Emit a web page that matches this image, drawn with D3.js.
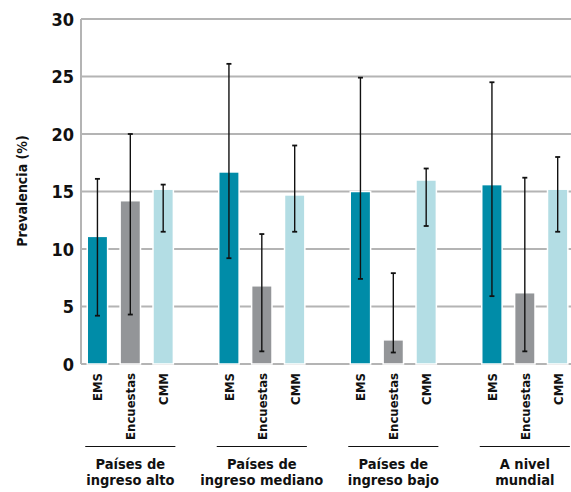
<!DOCTYPE html>
<html>
<head>
	<script src="https://cdn.jsdelivr.net/npm/d3@7/dist/d3.min.js"></script>
	<style>
		html, body {
			padding: 0;
			margin: 0;
			background: #fff;
		}
		text {
			font-family: "Liberation Sans Narrow", "DejaVu Sans Condensed", sans-serif;
			font-weight: bold;
			fill: #111;
		}
	</style>
</head>
<body>
	<script>
		var width = 571, height = 492;

		/* data */
		var groups    = ["alto", "mediano", "bajo", "mundial"];
		var groupText = [["Países de", "ingreso alto"],
		                 ["Países de", "ingreso mediano"],
		                 ["Países de", "ingreso bajo"],
		                 ["A nivel", "mundial"]];
		var series    = ["EMS", "Encuestas", "CMM"];
		var colors    = ["#008ca8", "#939598", "#b3dde4"];
		// values per group, in series order
		var values    = [[11.1, 14.2, 15.2],
		                 [16.7, 6.8, 14.7],
		                 [15.0, 2.1, 16.0],
		                 [15.6, 6.2, 15.2]];
		var lows      = [[4.2, 4.3, 11.5],
		                 [9.2, 1.1, 11.5],
		                 [7.4, 1.0, 12.0],
		                 [5.9, 1.1, 11.5]];
		var highs     = [[16.1, 20.0, 15.6],
		                 [26.1, 11.3, 19.0],
		                 [24.9, 7.9, 17.0],
		                 [24.5, 16.2, 18.0]];
		var yTicks    = [0, 5, 10, 15, 20, 25, 30];

		var svg = d3.select('body').append('svg')
			.attr('width', width)
			.attr('height', height);

		var plotLeft = 81, plotTop = 19, plotBottom = 364;
		var groupStep = 131.5;

		var y = d3.scaleLinear().domain([0, 30]).range([plotBottom, plotTop]);
		var x0 = d3.scaleBand().domain(groups)
			.range([plotLeft, plotLeft + groupStep * groups.length]);
		var x1 = d3.scaleBand().domain(series)
			.range([0, groupStep * 3 / 4])
			.paddingInner(0.38).paddingOuter(0.19);

		/* gridlines */
		svg.append("g").selectAll("line")
			.data(yTicks)
			.enter().append("line")
			.attr("x1", plotLeft).attr("x2", width)
			.attr("y1", function(d) { return y(d); })
			.attr("y2", function(d) { return y(d); })
			.attr("stroke", "#b4b4b4")
			.attr("stroke-width", 2);

		svg.append("line")
			.attr("x1", plotLeft).attr("x2", plotLeft)
			.attr("y1", plotTop).attr("y2", plotBottom)
			.attr("stroke", "#b4b4b4")
			.attr("stroke-width", 2);

		/* y axis labels */
		var yAxis = d3.axisLeft(y).tickValues(yTicks).tickSize(0).tickPadding(7);
		var ga = svg.append("g")
			.attr("transform", "translate(" + plotLeft + ",0)")
			.call(yAxis);
		ga.select(".domain").remove();
		ga.selectAll("text")
			.style("font-size", "18px")
			.attr("dy", "0.35em");

		svg.append("text")
			.attr("transform", "translate(27,191) rotate(-90)")
			.attr("text-anchor", "middle")
			.style("font-size", "14px")
			.text("Prevalencia (%)");

		/* bars */
		groups.forEach(function(g, gi) {
			var gg = svg.append("g")
				.attr("transform", "translate(" + x0(g) + ",0)");

			gg.selectAll("rect")
				.data(series)
				.enter().append("rect")
				.attr("x", function(s) { return x1(s); })
				.attr("width", x1.bandwidth())
				.attr("y", function(s, i) { return y(values[gi][i]); })
				.attr("height", function(s, i) { return plotBottom - y(values[gi][i]); })
				.attr("fill", function(s, i) { return colors[i]; })
				.attr("stroke", "#fff")
				.attr("stroke-width", 1.5);

			series.forEach(function(s, i) {
				var cx = x1(s) + x1.bandwidth() / 2;
				var e = gg.append("g").attr("stroke", "#111").attr("stroke-width", 1.4);
				e.append("line")
					.attr("x1", cx).attr("x2", cx)
					.attr("y1", y(lows[gi][i])).attr("y2", y(highs[gi][i]));
				[lows[gi][i], highs[gi][i]].forEach(function(v) {
					e.append("line")
						.attr("x1", cx - 2.5).attr("x2", cx + 2.5)
						.attr("y1", y(v)).attr("y2", y(v))
						.attr("stroke-width", 1.8);
				});

				gg.append("text")
					.attr("transform", "translate(" + (cx + 5) + ",373) rotate(-90)")
					.attr("text-anchor", "end")
					.style("font-size", "13px")
					.text(s);
			});

			// group underline + label
			var gx1 = x1(series[0]) - 2;
			var gx2 = x1(series[2]) + x1.bandwidth() + 2;
			gg.append("line")
				.attr("x1", gx1).attr("x2", gx2)
				.attr("y1", 446.5).attr("y2", 446.5)
				.attr("stroke", "#111")
				.attr("stroke-width", 1.2);

			gg.append("text")
				.attr("x", (gx1 + gx2) / 2)
				.attr("y", 469)
				.attr("text-anchor", "middle")
				.style("font-size", "14.5px")
				.selectAll("tspan")
				.data(groupText[gi])
				.enter().append("tspan")
				.attr("x", (gx1 + gx2) / 2)
				.attr("dy", function(d, i) { return i ? 16 : 0; })
				.text(function(d) { return d; });
		});
	</script>
</body>
</html>
